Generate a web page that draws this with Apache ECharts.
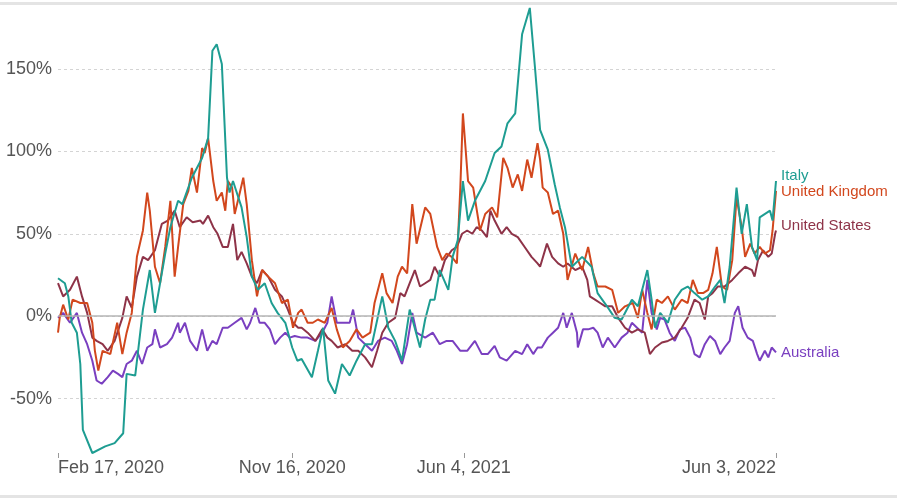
<!DOCTYPE html>
<html>
<head>
<meta charset="utf-8">
<script src="https://cdn.jsdelivr.net/npm/echarts@6/dist/echarts.min.js"></script>
<style>
  html, body { margin: 0; padding: 0; background: #fff; }
  #chart { position: absolute; left: 0; top: 0; width: 897px; height: 498px; }
  .rule { position: absolute; left: 0; width: 897px; height: 3px; background: #e4e4e4; z-index: 5; }
</style>
</head>
<body>
<div id="chart"></div>
<div class="rule" style="top:2px"></div>
<div class="rule" style="top:495px"></div>
<script>
// day offsets counted from Feb 17, 2020, values in % change
var tickDays = [0, 273, 473, 837];
var tickLabels = ['Feb 17, 2020', 'Nov 16, 2020', 'Jun 4, 2021', 'Jun 3, 2022'];
var yTicks = [-50, 0, 50, 100, 150];

var italy = [[0,23],[8,20],[12,12],[16,-4],[22,-10],[26,-29],[29,-69],[40,-83],[55,-79],[66,-77],[76,-71],[80,-35],[90,-36],[99,4],[107,28],[113,2],[125,38],[131,54],[140,70],[145,68],[156,84],[168,96],[175,108],[180,161],[185,165],[191,153],[197,84],[200,75],[204,82],[214,66],[220,48],[226,24],[233,16],[241,20],[249,8],[256,2],[265,-4],[273,-19],[279,-27],[284,-26],[296,-37],[303,-21],[309,-7],[315,-39],[323,-47],[331,-29],[340,-36],[348,-27],[358,-17],[366,-17],[378,12],[385,-7],[393,-15],[401,-27],[410,4],[420,-15],[422,-19],[428,-2],[434,10],[439,10],[445,28],[455,16],[460,36],[466,46],[472,82],[478,58],[486,70],[498,82],[509,99],[517,103],[524,117],[533,123],[541,171],[550,187],[556,151],[562,113],[571,101],[579,80],[585,66],[591,54],[599,30],[611,36],[622,30],[629,14],[640,6],[649,-1],[657,-2],[669,10],[676,6],[687,28],[692,10],[696,-7],[702,2],[711,-4],[719,10],[727,16],[734,18],[742,14],[751,10],[758,12],[766,18],[772,22],[777,8],[783,30],[791,78],[797,50],[803,68],[809,42],[815,34],[818,60],[830,64],[833,58],[837,82]];

var uk = [[0,-10],[2,-1],[6,7],[12,-2],[17,10],[26,8],[34,8],[40,-4],[43,-21],[47,-33],[52,-21],[61,-23],[69,-4],[75,-23],[80,-10],[86,2],[92,36],[99,52],[104,75],[107,64],[113,30],[119,20],[125,42],[131,70],[136,24],[140,42],[146,68],[152,76],[156,90],[162,75],[168,102],[171,99],[175,108],[181,82],[185,70],[191,75],[195,64],[198,82],[203,78],[206,62],[212,75],[216,84],[220,68],[226,34],[232,12],[238,28],[245,24],[253,20],[261,8],[268,10],[274,-7],[280,2],[284,4],[291,-4],[297,-4],[303,-2],[311,-4],[319,5],[325,-8],[332,-19],[340,-15],[348,-8],[355,-13],[364,-10],[369,8],[378,26],[383,14],[390,8],[396,24],[401,30],[407,26],[413,68],[418,44],[428,66],[434,62],[442,42],[448,34],[453,38],[459,36],[465,32],[469,78],[472,123],[478,82],[484,78],[492,52],[498,62],[506,66],[512,60],[519,96],[524,90],[530,78],[536,86],[541,76],[547,95],[552,84],[559,105],[562,95],[565,78],[571,75],[577,62],[583,64],[589,50],[594,22],[603,38],[611,28],[618,42],[624,26],[629,18],[638,18],[646,16],[653,2],[661,6],[670,8],[676,-1],[681,16],[687,2],[692,-8],[698,10],[704,8],[711,12],[719,4],[727,10],[734,8],[740,22],[746,14],[752,14],[758,16],[763,26],[768,42],[774,18],[780,16],[786,34],[791,72],[797,54],[801,36],[807,44],[812,38],[818,42],[824,38],[830,40],[833,52],[837,76]];

var us = [[0,20],[6,12],[14,16],[22,24],[28,12],[34,2],[40,-13],[45,-15],[52,-17],[58,-21],[66,-15],[75,-1],[80,12],[86,5],[92,24],[99,36],[105,34],[113,40],[121,56],[128,58],[136,64],[142,54],[150,60],[157,57],[166,58],[169,56],[175,61],[181,54],[186,50],[192,42],[198,42],[204,56],[209,34],[214,39],[220,32],[226,24],[232,20],[238,28],[245,24],[253,16],[261,12],[268,4],[274,-4],[280,-7],[284,-7],[291,-10],[300,-15],[308,-8],[314,-13],[319,-15],[326,-19],[335,-17],[343,-21],[350,-21],[358,-25],[366,-31],[372,-21],[378,-10],[385,-4],[393,-1],[399,14],[404,12],[410,20],[416,28],[422,18],[428,20],[434,22],[439,30],[445,24],[451,34],[459,40],[465,42],[471,50],[477,52],[483,50],[488,54],[494,52],[500,48],[504,64],[509,58],[517,50],[523,54],[529,50],[536,48],[544,42],[552,36],[559,32],[562,30],[570,44],[576,36],[583,32],[589,30],[594,32],[603,28],[611,30],[617,22],[620,12],[626,10],[632,8],[638,6],[646,6],[653,-1],[661,-7],[669,-10],[676,-8],[684,-10],[690,-23],[696,-19],[704,-16],[711,-15],[719,-13],[727,-7],[734,-1],[742,10],[748,8],[754,-2],[758,12],[763,14],[769,18],[777,18],[786,22],[793,26],[801,30],[809,28],[812,24],[816,34],[822,40],[828,36],[832,38],[836,50],[837,52]];

var australia = [[0,-1],[6,2],[14,-4],[22,2],[28,-10],[34,-17],[40,-27],[45,-39],[51,-41],[58,-37],[64,-33],[70,-35],[75,-37],[80,-29],[86,-27],[92,-21],[98,-29],[104,-19],[110,-17],[113,-8],[119,-19],[127,-17],[133,-13],[140,-4],[142,-10],[148,-4],[154,-15],[162,-21],[168,-8],[174,-21],[180,-15],[185,-17],[192,-7],[198,-7],[206,-4],[214,-1],[220,-8],[224,-4],[230,5],[235,-4],[241,-4],[247,-8],[253,-17],[259,-13],[265,-10],[270,-13],[276,-12],[284,-13],[291,-13],[300,-15],[308,-10],[314,-4],[319,12],[325,-4],[332,-4],[340,-4],[344,4],[350,-13],[358,-17],[366,-21],[373,-15],[381,-13],[389,-15],[395,-21],[401,-29],[407,-17],[413,2],[418,-10],[428,-13],[437,-10],[445,-17],[453,-15],[460,-15],[469,-21],[477,-21],[486,-15],[494,-23],[501,-23],[509,-18],[515,-25],[523,-27],[533,-21],[541,-23],[547,-17],[554,-23],[559,-19],[564,-19],[571,-13],[577,-10],[583,-7],[589,2],[593,-7],[599,2],[605,-10],[606,-19],[612,-8],[618,-8],[624,-7],[629,-10],[635,-19],[641,-13],[649,-19],[657,-13],[664,-10],[669,-4],[675,-7],[681,-10],[687,22],[692,2],[698,-8],[702,-1],[707,-2],[713,-10],[719,-15],[725,-8],[731,-7],[737,-13],[742,-23],[748,-25],[754,-17],[760,-12],[766,-15],[772,-23],[777,-19],[783,-15],[789,2],[793,6],[798,-7],[804,-13],[810,-15],[815,-23],[818,-27],[824,-21],[828,-25],[832,-19],[837,-22]];

var names = ['Australia', 'United States', 'United Kingdom', 'Italy'];
var colors = ['#7a3fc0', '#8e3348', '#d2471d', '#1e9d92'];
var datas = [australia, us, uk, italy];
var labelShift = [0, -5, 1, -5];

var font = 'Liberation Sans, Arial, Helvetica, sans-serif';
var myChart = echarts.init(document.getElementById('chart'));

var series = names.map(function (n, i) {
  var s = {
    name: n,
    type: 'line',
    data: datas[i],
    symbol: 'none',
    smooth: false,
    lineStyle: { color: colors[i], width: 2 },
    itemStyle: { color: colors[i] },
    endLabel: {
      show: true,
      formatter: '{a}',
      color: colors[i],
      fontSize: 15,
      fontFamily: font,
      distance: 5,
      offset: [0, labelShift[i]]
    },
    animation: false
  };
  if (i === 0) {
    // solid zero line
    s.markLine = {
      silent: true,
      symbol: 'none',
      label: { show: false },
      lineStyle: { color: '#b4b4b4', type: 'solid', width: 1.5 },
      data: [{ yAxis: 0 }],
      animation: false
    };
  }
  return s;
});

var option = {
  backgroundColor: '#fff',
  animation: false,
  grid: { left: 58, right: 121, top: 3, bottom: 45, containLabel: false },
  xAxis: {
    type: 'value',
    min: 0,
    max: 837,
    axisLine: { show: false, onZero: false },
    splitLine: { show: false },
    axisTick: {
      show: true,
      customValues: tickDays,
      length: 5,
      lineStyle: { color: '#999' }
    },
    axisLabel: {
      customValues: tickDays,
      formatter: function (v) { return tickLabels[tickDays.indexOf(v)] || ''; },
      color: '#555',
      fontSize: 18,
      fontFamily: font,
      margin: 6,
      alignMinLabel: 'left',
      alignMaxLabel: 'right',
      hideOverlap: false
    }
  },
  yAxis: {
    type: 'value',
    min: -83,
    max: 190,
    axisLine: { show: false },
    axisTick: { show: false, customValues: yTicks },
    axisLabel: {
      customValues: yTicks,
      formatter: function (v) { return v + '%'; },
      color: '#555',
      fontSize: 18,
      fontFamily: font,
      margin: 6
    },
    splitLine: {
      show: true,
      lineStyle: { color: '#d4d4d4', type: [3, 3], width: 1 }
    }
  },
  series: series
};
myChart.setOption(option);
</script>
</body>
</html>
